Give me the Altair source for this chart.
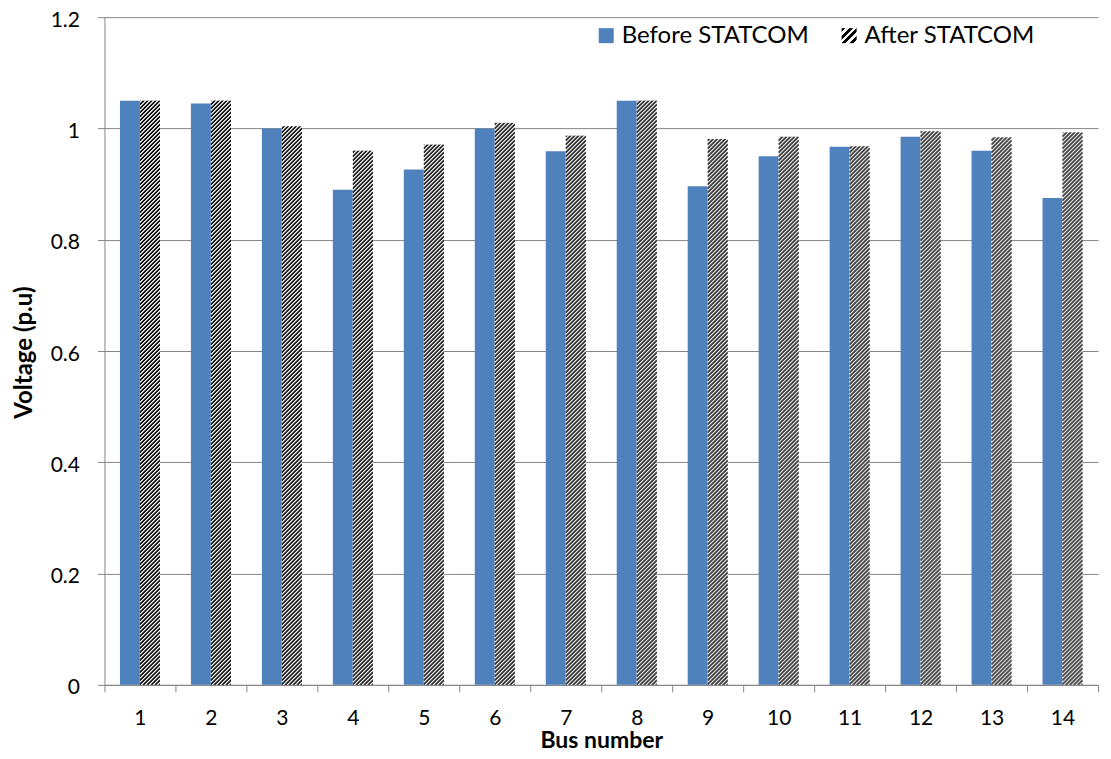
import altair as alt
import pandas as pd

# ---- data ----
buses = [str(i) for i in range(1, 15)]
series_names = ["Before STATCOM", "After STATCOM"]
before = [1.05, 1.045, 1.0, 0.89, 0.926, 1.0, 0.959, 1.05, 0.896, 0.95, 0.967, 0.985, 0.96, 0.875]
after = [1.05, 1.05, 1.004, 0.96, 0.971, 1.01, 0.987, 1.05, 0.981, 0.985, 0.968, 0.995, 0.984, 0.993]
y_ticks = [0, 0.2, 0.4, 0.6, 0.8, 1.0, 1.2]

rows = []
for b, v in zip(buses, before):
    rows.append({"bus": b, "series": series_names[0], "value": v})
for b, v in zip(buses, after):
    rows.append({"bus": b, "series": series_names[1], "value": v})
df = pd.DataFrame(rows)

FONT = "Lato"
GRAY = "#868686"
BLUE = "#4F81BD"
W, H = 994, 668

x_axis = alt.Axis(
    labelAngle=0, labelFont=FONT, labelFontSize=21, labelColor="black",
    labelBaseline="alphabetic", labelPadding=33,
    domainColor=GRAY, tickColor=GRAY, tickSize=7, tickBand="extent",
    titleFont=FONT, titleFontSize=23, titleFontWeight="bold", titleColor="black",
    titleBaseline="alphabetic", titleY=63, titleX=W / 2, titleAlign="center",
)
y_axis = alt.Axis(
    values=y_ticks, format="~g", labelFont=FONT, labelFontSize=21, labelColor="black",
    labelPadding=18, labelOffset=3, domainColor=GRAY, tickColor=GRAY, tickSize=7,
    grid=True, gridColor=GRAY, gridWidth=1,
    titleFont=FONT, titleFontSize=24, titleFontWeight="bold", titleColor="black",
    titleAngle=-90, titleX=-80, titleY=335, titleAlign="center", titleBaseline="middle",
)
x_scale = alt.Scale(paddingInner=0, paddingOuter=0)
y_scale = alt.Scale(domain=[0, 1.2], nice=False, zero=True)


def xenc():
    return alt.X("bus:N", sort=buses, scale=x_scale, axis=x_axis, title="Bus number")


bars = alt.Chart(df).mark_bar().encode(
    x=xenc(),
    xOffset=alt.XOffset("series:N", sort=series_names,
                        scale=alt.Scale(domain=series_names, paddingOuter=0.775, paddingInner=0)),
    y=alt.Y("value:Q", scale=y_scale, axis=y_axis, title="Voltage (p.u)"),
    color=alt.Color("series:N", scale=alt.Scale(domain=series_names, range=[BLUE, "#FFFFFF"]),
                    legend=None),
)

# hatch for the "After" bars: narrow dashed vertical rules with staggered dash offsets
rules = []
for k in range(20):
    r = (
        alt.Chart(df)
        .transform_filter(alt.datum.series == series_names[1])
        .transform_calculate(zero="0")
        .mark_rule(color="black", strokeWidth=1, strokeDash=[2.3, 1.7],
                   strokeDashOffset=40 - k, xOffset=0.5 + k)
        .encode(
            x=xenc(),
            y=alt.Y("zero:Q", scale=y_scale, axis=y_axis, title="Voltage (p.u)"),
            y2="value:Q",
        )
    )
    rules.append(r)

# custom legend
stops = []
n = 4
for i in range(n):
    a = i / n
    m = (i + 0.55) / n
    b = (i + 1) / n
    stops += [
        {"offset": a, "color": "black"}, {"offset": m, "color": "black"},
        {"offset": m, "color": "white"}, {"offset": b, "color": "white"},
    ]
hatch_fill = {"gradient": "linear", "x1": 0, "y1": 0, "x2": 1, "y2": 1, "stops": stops}

leg_data_b = alt.Data(values=[{"label": series_names[0]}])
leg_data_a = alt.Data(values=[{"label": series_names[1]}])

leg_rect_b = alt.Chart(leg_data_b).mark_rect(color=BLUE).encode(
    x=alt.value(494.5), x2=alt.value(509.5), y=alt.value(11), y2=alt.value(26))
leg_text_b = alt.Chart(leg_data_b).mark_text(
    align="left", baseline="alphabetic", font=FONT, fontSize=24, color="black").encode(
    x=alt.value(517.5), y=alt.value(26), text="label:N")
leg_rect_a = alt.Chart(leg_data_a).mark_rect(fill=hatch_fill).encode(
    x=alt.value(737.5), x2=alt.value(752.5), y=alt.value(11), y2=alt.value(26))
leg_text_a = alt.Chart(leg_data_a).mark_text(
    align="left", baseline="alphabetic", font=FONT, fontSize=24, color="black").encode(
    x=alt.value(760.5), y=alt.value(26), text="label:N")

chart = (
    alt.layer(bars, *rules, leg_rect_b, leg_text_b, leg_rect_a, leg_text_a)
    .properties(
        width=W, height=H,
        autosize=alt.AutoSizeParams(type="none"),
        padding={"left": 96.5, "top": 9, "right": 5, "bottom": 66},
        background="white",
    )
    .configure_view(strokeWidth=0)
)

chart.save("out.html", embed_options={"renderer": "svg", "actions": False})
